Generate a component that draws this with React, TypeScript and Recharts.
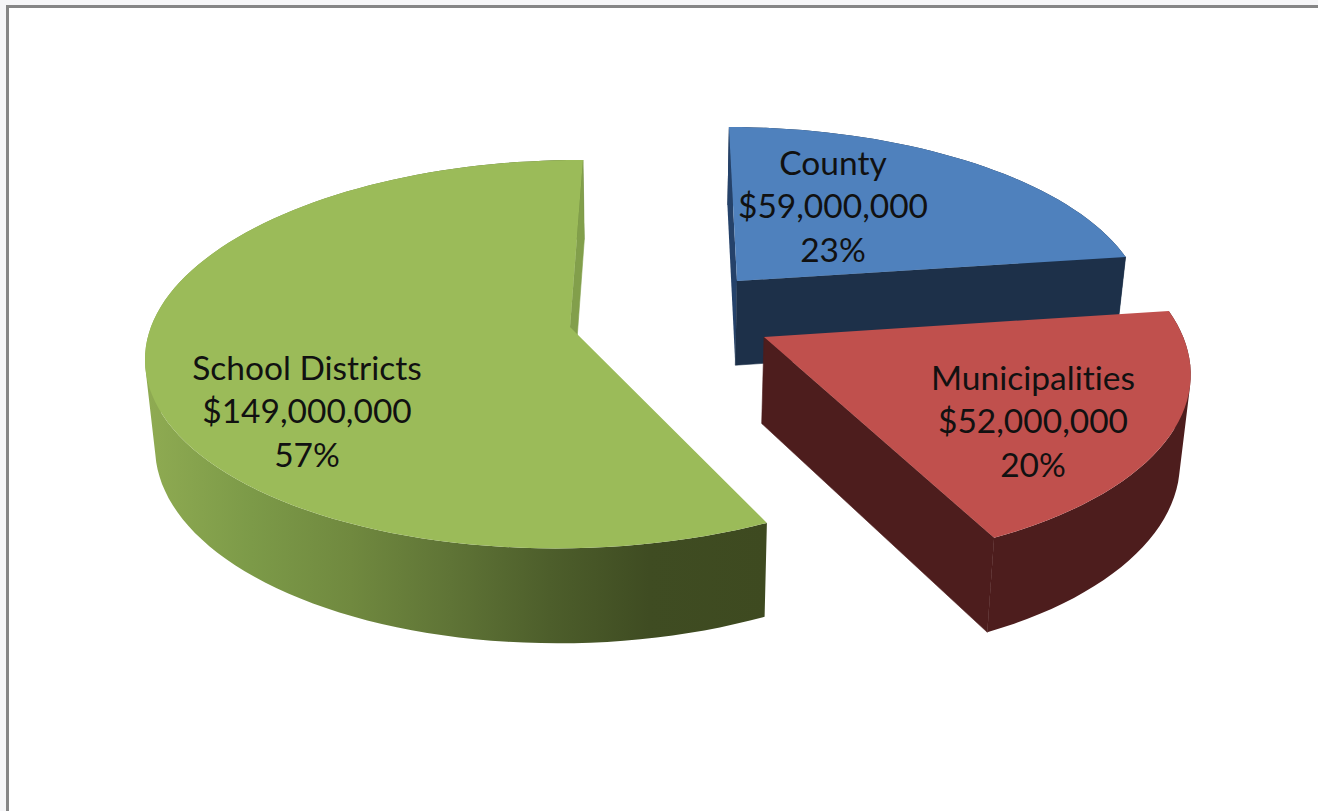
import { PieChart, Pie } from 'recharts';

const categories = ['County', 'Municipalities', 'School Districts'];
const amounts = [59000000, 52000000, 149000000];

const WIDTH = 1318;
const HEIGHT = 811;

// perspective strength of the tilted disc
const Q = 0.14;

// how each exploded slice sits on the tilted disc
const sliceStyles: Record<string, any> = {
  County: {
    x0: 737, y0: 281, A: 402, B: 94, C: 0.8, E: -136.2,
    top: '#4f81bd', arc: '#1d3049', startWall: '#25426a', endWall: '#1d3049',
    labelX: 833, labelY: 207,
  },
  Municipalities: {
    x0: 764, y0: 337, A: 419.8, B: 90, C: 1.6, E: -147.9,
    top: '#c0504d', arc: '#4d1d1d', startWall: null, endWall: '#4d1d1d',
    labelX: 1033, labelY: 422,
  },
  'School Districts': {
    x0: 570, y0: 327, A: 418.5, B: 94.6, C: 1.4, E: -144.6,
    top: '#9bbb59', arc: 'url(#schoolSide)', startWall: null, endWall: '#829f4b',
    labelX: 307, labelY: 412,
  },
};

const data = categories.map((name, i) => ({ name, value: amounts[i] }));

type Pt = [number, number];

const project = (s: any, clock: number, f = 1): Pt => {
  const rad = (clock * Math.PI) / 180;
  const sin = Math.sin(rad);
  const cos = Math.cos(rad);
  const d = 1 + f * Q * cos;
  return [
    (s.x0 + f * (s.A * sin + s.B * cos)) / d,
    (s.y0 + f * (s.C * sin + s.E * cos)) / d,
  ];
};

// lower rim of the disc: further down and pulled toward the vanishing point
const drop = ([x, y]: Pt): Pt => [x + (650 - x) * 0.02, y + 73 + y * 0.04];

const toPath = (pts: Pt[]) =>
  'M' + pts.map(([x, y]) => `${x.toFixed(1)},${y.toFixed(1)}`).join('L') + 'Z';

const signedArea = (pts: Pt[]) =>
  pts.reduce((sum, [x, y], i) => {
    const [nx, ny] = pts[(i + 1) % pts.length];
    return sum + x * ny - nx * y;
  }, 0);

// the outer band folds over itself at the silhouette, so every quad gets the same winding
const bandPath = (arc: Pt[]) =>
  arc
    .slice(1)
    .map((p, i) => {
      const quad: Pt[] = [arc[i], p, drop(p), drop(arc[i])];
      return toPath(signedArea(quad) < 0 ? quad.reverse() : quad);
    })
    .join('');

const arcPoints = (s: any, from: number, to: number) => {
  const pts: Pt[] = [];
  for (let a = from; a < to; a += 2) pts.push(project(s, a));
  pts.push(project(s, to));
  return pts;
};

function Slice3D(props: any) {
  const s = sliceStyles[props.name];
  const from = 90 - props.startAngle;
  const to = 90 - props.endAngle;
  const arc = arcPoints(s, from, to);
  const apex = project(s, 0, 0);
  const wall = (clock: number) => {
    const rim = project(s, clock);
    return toPath([apex, rim, drop(rim), drop(apex)]);
  };
  return (
    <g>
      <path d={bandPath(arc)} fill={s.arc} />
      {s.startWall && <path d={wall(from)} fill={s.startWall} />}
      {/* thin stroke closes the hairline where the wall meets the band */}
      {s.endWall && <path d={wall(to)} fill={s.endWall} stroke={s.endWall} strokeWidth={0.6} />}
      <path d={toPath([apex, ...arc])} fill={s.top} />
    </g>
  );
}

function SliceLabel(props: any) {
  const s = sliceStyles[props.name];
  const lines = [
    props.name,
    '$' + props.value.toLocaleString('en-US'),
    `${Math.round(props.percent * 100)}%`,
  ];
  return (
    <text
      x={s.labelX}
      y={s.labelY}
      textAnchor="middle"
      fontFamily="Lato, sans-serif"
      fontSize={33.5}
      fill="#111"
      style={{ fontVariantLigatures: 'none' }}
    >
      {lines.map((line, i) => (
        <tspan key={i} x={s.labelX} y={s.labelY + (i - 1) * 43.5 + 11}>
          {line}
        </tspan>
      ))}
    </text>
  );
}

export default function App() {
  return (
    <div
      style={{
        position: 'absolute',
        left: 0,
        top: 0,
        width: WIDTH,
        height: HEIGHT,
        overflow: 'hidden',
        background: '#f6f6f8',
      }}
    >
      <div
        style={{
          position: 'absolute',
          left: 6,
          top: 5,
          width: WIDTH,
          height: HEIGHT,
          background: '#fff',
          borderLeft: '3px solid #868686',
          borderTop: '3px solid #868686',
        }}
      />
      <div style={{ position: 'absolute', left: 0, top: 0 }}>
        <PieChart width={WIDTH} height={HEIGHT} margin={{ top: 0, right: 0, bottom: 0, left: 0 }}>
          <defs>
            <linearGradient id="schoolSide" gradientUnits="userSpaceOnUse" x1={146} y1={0} x2={767} y2={0}>
              <stop offset="0%" stopColor="#8fab52" />
              <stop offset="17%" stopColor="#7c9a48" />
              <stop offset="33%" stopColor="#70893f" />
              <stop offset="49%" stopColor="#5f7436" />
              <stop offset="65%" stopColor="#4d5e2b" />
              <stop offset="81%" stopColor="#3f4c22" />
              <stop offset="100%" stopColor="#3e4a20" />
            </linearGradient>
          </defs>
          <Pie
            data={data}
            dataKey="value"
            nameKey="name"
            cx={650}
            cy={350}
            outerRadius={300}
            startAngle={90}
            endAngle={-270}
            stroke="none"
            shape={Slice3D}
            label={SliceLabel}
            labelLine={false}
            isAnimationActive={false}
          />
        </PieChart>
      </div>
    </div>
  );
}
